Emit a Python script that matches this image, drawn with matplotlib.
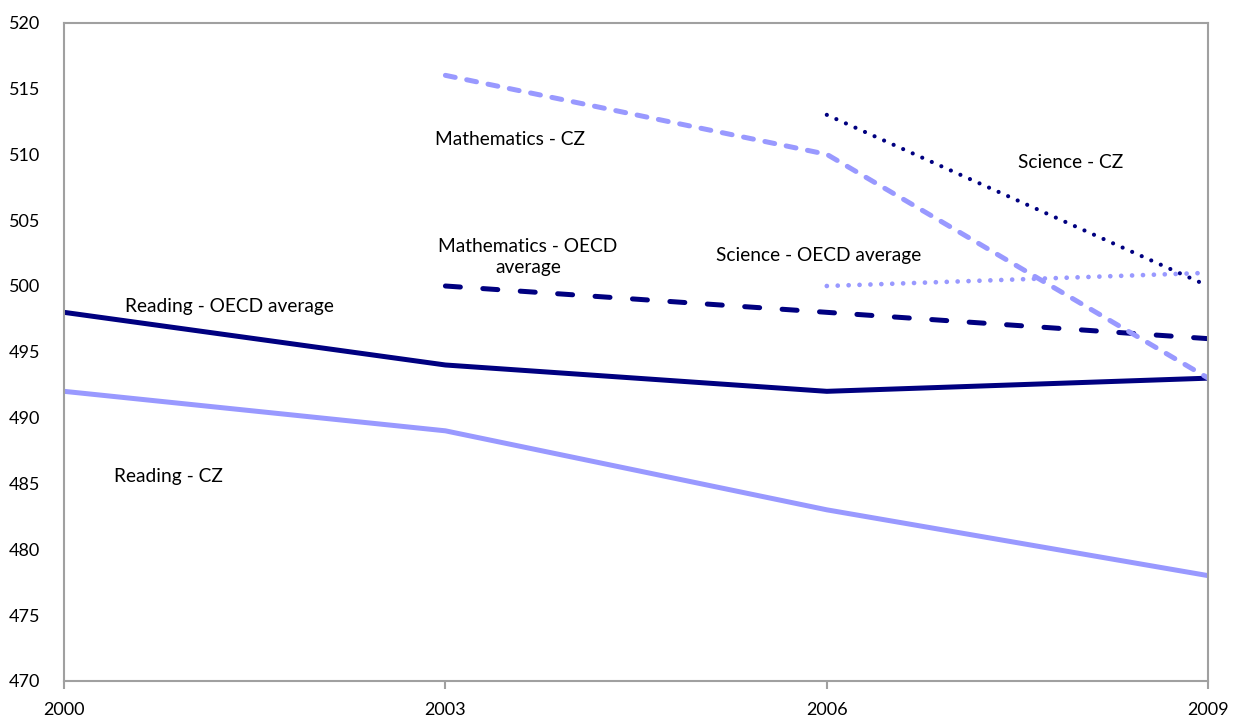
import matplotlib
matplotlib.use("Agg")
import matplotlib.pyplot as plt

years = [2000, 2003, 2006, 2009]

reading_oecd = [498, 494, 492, 493]
reading_cz = [492, 489, 483, 478]
math_years = [2003, 2006, 2009]
math_oecd = [500, 498, 496]
math_cz = [516, 510, 493]
science_years = [2006, 2009]
science_cz = [513, 500]
science_oecd = [500, 501]

y_ticks = list(range(470, 521, 5))

DARK = "#000080"
LIGHT = "#9999FF"
GRID = "#A0A0A0"

plt.rcParams["font.family"] = ["Lato", "DejaVu Sans"]

fig = plt.figure(figsize=(12.33, 7.2), dpi=100)
ax = fig.add_axes([0.0519, 0.0542, 0.928, 0.9143])

lw = 3.6
ax.plot(years, reading_oecd, color=DARK, lw=lw, solid_joinstyle="round")
ax.plot(years, reading_cz, color=LIGHT, lw=lw, solid_joinstyle="round")
ax.plot(math_years, math_oecd, color=DARK, lw=lw, linestyle=(0, (3.0, 4.5)),
        dash_capstyle="round")
ax.plot(math_years, math_cz, color=LIGHT, lw=lw, linestyle=(0, (2.0, 2.35)),
        dash_capstyle="round", dash_joinstyle="round")
ax.plot(science_years, science_cz, color=DARK, lw=3.0, linestyle=(0, (0.01, 2.5)),
        dash_capstyle="round")
ax.plot(science_years, science_oecd, color=LIGHT, lw=3.4, linestyle=(0, (0.01, 2.3)),
        dash_capstyle="round")

ax.set_xlim(2000, 2009)
ax.set_ylim(470, 520)
ax.set_xticks(years)
ax.set_xticklabels([str(y) for y in years])
ax.set_yticks(y_ticks)

for s in ax.spines.values():
    s.set_color(GRID)
    s.set_linewidth(1.5)

ax.tick_params(axis="x", length=6, width=1.5, color=GRID, labelsize=13, pad=9)
ax.tick_params(axis="y", length=0, labelsize=13, pad=17)

label_kw = dict(fontsize=13.8, color="black", va="center")
ax.text(2002.92, 511.15, "Mathematics - CZ", ha="left", **label_kw)
ax.text(2007.92, 509.35, "Science - CZ", ha="center", **label_kw)
ax.text(2003.65, 502.2, "Mathematics - OECD\naverage", ha="center",
        linespacing=1.3, **label_kw)
ax.text(2005.13, 502.3, "Science - OECD average", ha="left", **label_kw)
ax.text(2000.48, 498.45, "Reading - OECD average", ha="left", **label_kw)
ax.text(2000.39, 485.55, "Reading - CZ", ha="left", **label_kw)

fig.savefig("out.png", dpi=100)
